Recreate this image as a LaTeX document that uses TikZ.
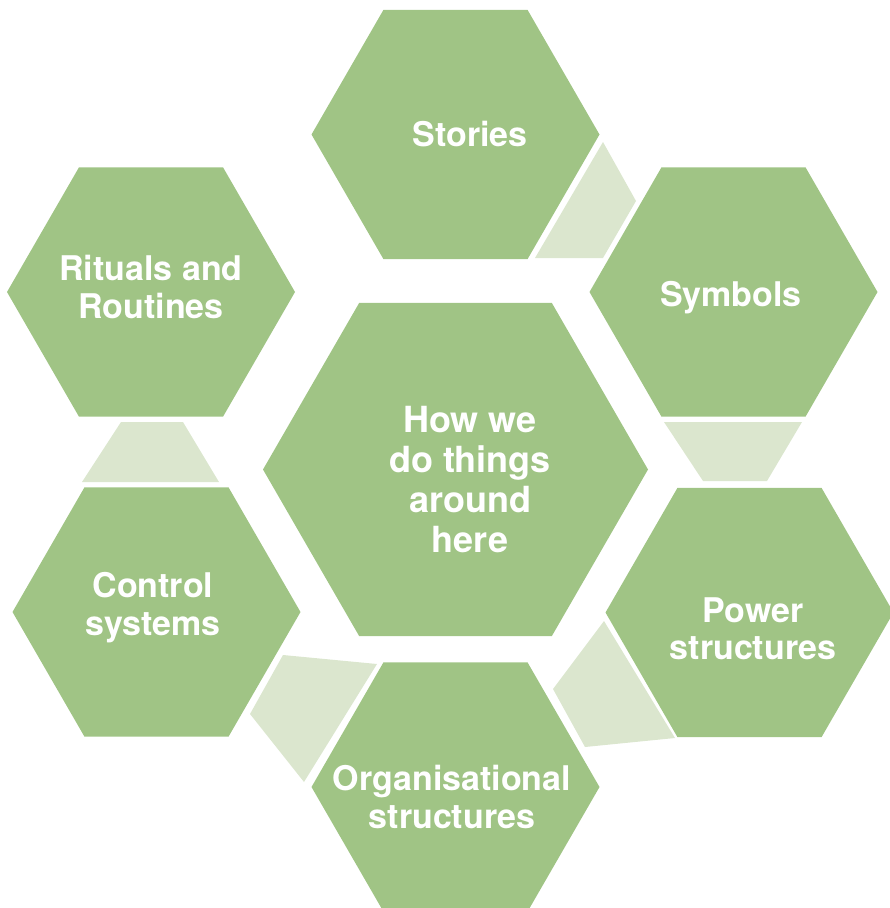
\documentclass[tikz,border=0pt]{standalone}
\usepackage{fontspec}
\setmainfont{TeX Gyre Heros}
\definecolor{hexgreen}{HTML}{A0C485}
\definecolor{linkgreen}{HTML}{DBE6CE}
\newcommand\hexcell[2]{%
  \fill[hexfill, shift={(#1)}] (0:#2) -- (60:#2) -- (120:#2) -- (180:#2) -- (240:#2) -- (300:#2) -- cycle;}
\begin{document}
\begin{tikzpicture}[x=1pt, y=-1pt,
  hexfill/.style={fill=hexgreen},
  linkfill/.style={fill=linkgreen},
  celltext/.style={text=white, align=center, inner sep=0pt,
    font=\bfseries\fontsize{34}{37.5}\selectfont},
  coretext/.style={celltext, font=\bfseries\fontsize{36}{40}\selectfont}]
\useasboundingbox (0,0) rectangle (890,908);

% cell centres
\coordinate (core)    at (455.5,469.5);
\coordinate (stories) at (455.5,134.5);
\coordinate (symbols) at (733.5,292);
\coordinate (rituals) at (151,292);
\coordinate (control) at (156.5,612);
\coordinate (power)   at (749.5,612.5);
\coordinate (org)     at (455.5,787);

% light links between neighbouring cells
\fill[linkfill] (535,258) -- (603,142) -- (636,201) -- (603,258) -- cycle;
\fill[linkfill] (664,422) -- (802,422) -- (767,481) -- (703,481) -- cycle;
\fill[linkfill] (604,621) -- (553,689) -- (585,747) -- (675,738) -- cycle;
\fill[linkfill] (283,655) -- (377,664) -- (304,782) -- (250,714) -- cycle;
\fill[linkfill] (121,422) -- (183,422) -- (219,482) -- (82,482) -- cycle;

% hexagonal cells
\hexcell{core}{192.5}
\hexcell{stories}{144}
\hexcell{symbols}{144}
\hexcell{rituals}{144}
\hexcell{control}{144}
\hexcell{power}{144}
\hexcell{org}{144}

% labels
\node[coretext] (t-core)    at (470,479.5) {How we\\do things\\around\\here};
\node[celltext] (t-stories) at (470,134)   {Stories};
\node[celltext] (t-symbols) at (731,298)   {Symbols};
\node[celltext] (t-rituals) at (151,287)   {Rituals and\\Routines};
\node[celltext] (t-control) at (153,607.5) {Control\\systems};
\node[celltext] (t-power)   at (753,629)   {Power\\structures};
\node[celltext] (t-org)     at (452,797)   {Organisational\\structures};
\end{tikzpicture}
\end{document}
